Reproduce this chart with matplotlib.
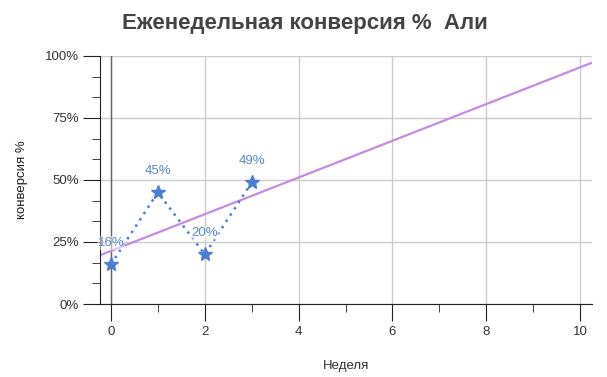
import numpy as np
import matplotlib.pyplot as plt
from matplotlib.ticker import MultipleLocator, PercentFormatter

plt.rcParams['font.family'] = ['Liberation Sans', 'DejaVu Sans']

# weekly conversion data
weeks = [0, 1, 2, 3]
conversion = [16, 45, 20, 49]
labels = ["16%", "45%", "20%", "49%"]

# linear trend through the points
slope, intercept = np.polyfit(weeks, conversion, 1)

fig = plt.figure(figsize=(6.07, 3.77), dpi=100)
ax = fig.add_axes([0.165, 0.1936, 0.81, 0.658])

xmin, xmax = -0.23, 10.25
ax.set_xlim(xmin, xmax)
ax.set_ylim(0, 100)

# grid
ax.set_axisbelow(True)
ax.grid(True, which="major", color="#cccccc", linewidth=1)
ax.axvline(0, color="#666666", linewidth=1, zorder=1)

# trendline
tx = np.array([xmin, xmax])
ax.plot(tx, slope * tx + intercept, color="#c58be0", linewidth=1.6, zorder=2)

# data
ax.plot(weeks, conversion, color="#4a7fd4", linestyle=(0, (1, 2)), linewidth=1.8,
        marker="*", markersize=10, zorder=3)
for x, y, t in zip(weeks, conversion, labels):
    ax.annotate(t, (x, y), xytext=(0, 11), textcoords="offset points", ha="center",
                va="bottom", fontsize=9.5, color="#5588cc",
                bbox=dict(boxstyle="square,pad=0.05", fc="white", ec="none", alpha=0.5),
                zorder=4)

# axes
for s in ["top", "right"]:
    ax.spines[s].set_visible(False)
for s in ["left", "bottom"]:
    ax.spines[s].set_color("#222222")
ax.xaxis.set_major_locator(MultipleLocator(2))
ax.xaxis.set_minor_locator(MultipleLocator(1))
ax.yaxis.set_major_locator(MultipleLocator(25))
ax.yaxis.set_minor_locator(MultipleLocator(25 / 3))
ax.yaxis.set_major_formatter(PercentFormatter(decimals=0))
ax.tick_params(which="major", length=12, color="#222222", labelsize=9.5, labelcolor="#333333")
ax.tick_params(which="minor", length=6, color="#222222")
ax.tick_params(axis="x", which="major", pad=4)

ax.set_xlabel("Неделя", fontsize=9.5, color="#333333", labelpad=16)
ax.set_ylabel("конверсия %", fontsize=9.5, color="#222222", labelpad=12)
fig.suptitle("Еженедельная конверсия %  Али", x=0.502, y=0.965, fontsize=16,
             fontweight="bold", color="#444444")

plt.savefig("out.png", dpi=100)
